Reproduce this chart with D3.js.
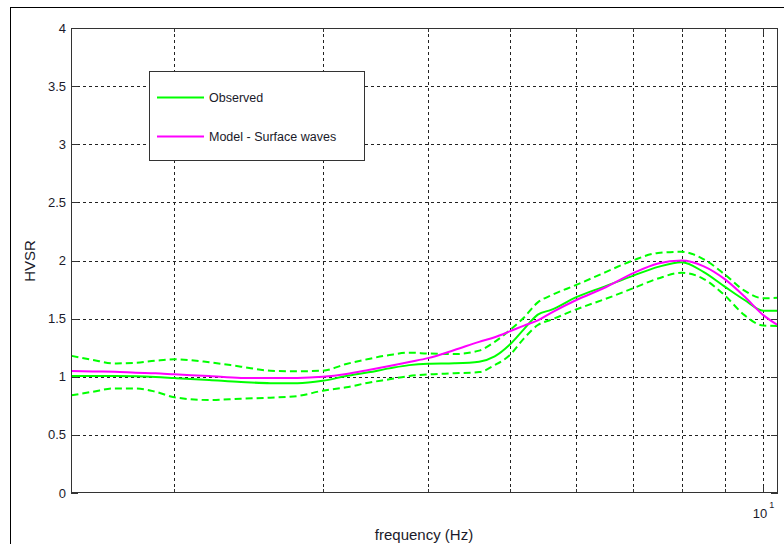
<!DOCTYPE html>
<html><head><meta charset="utf-8">
<script src="https://cdn.jsdelivr.net/npm/d3@7"></script>
<style>body{margin:0;background:#fff;}svg{display:block;font-family:"Liberation Sans",Arial,sans-serif;}</style>
</head><body><svg id="c" width="784" height="544"></svg>
<script>
const freq     = [1.51,1.6,1.7,1.8,1.9,2.0,2.2,2.4,2.6,2.8,3.0,3.2,3.4,3.6,3.8,4.0,4.3,4.6,4.8,5.0,5.2,5.4,5.6,6.0,6.5,7.0,7.5,8.0,8.5,9.0,9.5,10.0,10.4];
const obsMean  = [1.006,1.006,1.006,1.004,0.998,0.989,0.972,0.955,0.945,0.944,0.965,1.006,1.038,1.072,1.10,1.112,1.116,1.13,1.175,1.275,1.41,1.535,1.575,1.685,1.78,1.868,1.945,1.985,1.90,1.775,1.66,1.568,1.568];
const obsUpper = [1.18,1.145,1.115,1.12,1.138,1.15,1.125,1.087,1.052,1.047,1.052,1.11,1.153,1.187,1.207,1.20,1.195,1.225,1.30,1.40,1.51,1.64,1.70,1.79,1.90,2.0,2.065,2.075,2.01,1.88,1.74,1.675,1.68];
const obsLower = [0.84,0.871,0.90,0.90,0.871,0.823,0.80,0.811,0.82,0.834,0.88,0.909,0.949,0.978,1.006,1.02,1.03,1.04,1.10,1.185,1.33,1.445,1.49,1.58,1.67,1.76,1.845,1.895,1.84,1.70,1.53,1.44,1.437];
const model    = [1.049,1.045,1.043,1.035,1.03,1.021,1.006,0.99,0.99,0.99,1.0,1.024,1.058,1.092,1.127,1.16,1.23,1.30,1.34,1.39,1.44,1.485,1.55,1.66,1.77,1.89,1.975,2.0,1.95,1.84,1.69,1.53,1.445];
const yTicks   = [0,0.5,1,1.5,2,2.5,3,3.5,4];
const xGrid    = [2,3,4,5,6,7,8,9,10];
const legendLabels = ["Observed","Model - Surface waves"];

const svg = d3.select("#c");
const L=71,R=778,T=28,B=493;
const x = d3.scaleLog().domain([1.508,10.41]).range([L,R]);
const y = d3.scaleLinear().domain([0,4]).range([B,T]);

// outer figure frame
svg.append("rect").attr("x",10.5).attr("y",7.5).attr("width",800).attr("height",600)
  .attr("fill","none").attr("stroke","#000").attr("stroke-width",1);
svg.append("rect").attr("x",L).attr("y",T).attr("width",R-L).attr("height",B-T).attr("fill","#fff");

// grid
const g = svg.append("g");
g.selectAll(".gy").data(yTicks.filter(d=>d>0&&d<4)).enter().append("line")
  .attr("x1",L).attr("x2",R).attr("y1",d=>Math.round(y(d))+0.5).attr("y2",d=>Math.round(y(d))+0.5)
  .attr("stroke","#222").attr("stroke-dasharray","3,3").attr("stroke-width",1);
g.selectAll(".gx").data(xGrid).enter().append("line")
  .attr("y1",T).attr("y2",B).attr("x1",d=>Math.round(x(d))+0.5).attr("x2",d=>Math.round(x(d))+0.5)
  .attr("stroke","#222").attr("stroke-dasharray","3,3").attr("stroke-width",1);

// ticks (inside)
yTicks.forEach(d=>{
  const yy=Math.round(y(d))+0.5;
  svg.append("line").attr("x1",L).attr("x2",L+7).attr("y1",yy).attr("y2",yy).attr("stroke","#333");
  svg.append("line").attr("x1",R-7).attr("x2",R).attr("y1",yy).attr("y2",yy).attr("stroke","#333");
});
xGrid.forEach(d=>{
  const xx=Math.round(x(d))+0.5; const len = d===10?7:4;
  svg.append("line").attr("x1",xx).attr("x2",xx).attr("y1",B).attr("y2",B-len).attr("stroke","#333");
  svg.append("line").attr("x1",xx).attr("x2",xx).attr("y1",T).attr("y2",T+len).attr("stroke","#333");
});

// curves
const line = arr => d3.line().x((d,i)=>x(freq[i])).y(d=>y(d)).curve(d3.curveMonotoneX)(arr);
svg.append("path").attr("d",line(obsUpper)).attr("fill","none").attr("stroke","#00ff00").attr("stroke-width",2).attr("stroke-dasharray","7,4");
svg.append("path").attr("d",line(obsLower)).attr("fill","none").attr("stroke","#00ff00").attr("stroke-width",2).attr("stroke-dasharray","7,4");
svg.append("path").attr("d",line(obsMean)).attr("fill","none").attr("stroke","#00ff00").attr("stroke-width",2);
svg.append("path").attr("d",line(model)).attr("fill","none").attr("stroke","#ff00ff").attr("stroke-width",2);

// plot box
svg.append("rect").attr("x",L+0.5).attr("y",T+0.5).attr("width",R-L-1).attr("height",B-T-1)
  .attr("fill","none").attr("stroke","#333").attr("stroke-width",1);

// y tick labels
svg.selectAll(".yl").data(yTicks).enter().append("text")
  .attr("x",66).attr("y",d=>y(d)+4.5).attr("text-anchor","end")
  .attr("font-size",13).attr("fill","#1a1a2a").text(d=>d);

// x tick label 10^1
svg.append("text").attr("x",x(10)+4).attr("y",518).attr("text-anchor","end").attr("font-size",13).attr("fill","#1a1a2a").text("10");
svg.append("text").attr("x",x(10)+6).attr("y",508).attr("font-size",9).attr("fill","#1a1a2a").text("1");

// axis labels
svg.append("text").attr("x",424).attr("y",540).attr("text-anchor","middle").attr("font-size",15).attr("fill","#1a1a2a").text("frequency (Hz)");
svg.append("text").attr("transform","translate(35,261) rotate(-90)").attr("text-anchor","middle").attr("font-size",15).attr("fill","#1a1a2a").text("HVSR");

// legend
svg.append("rect").attr("x",149.5).attr("y",71.5).attr("width",215).attr("height",89)
  .attr("fill","#fff").attr("stroke","#333").attr("stroke-width",1);
const legColors=["#00ff00","#ff00ff"], legY=[97.5,136.5];
legendLabels.forEach((t,i)=>{
  svg.append("line").attr("x1",157).attr("x2",204).attr("y1",legY[i]).attr("y2",legY[i]).attr("stroke",legColors[i]).attr("stroke-width",2);
  svg.append("text").attr("x",209).attr("y",legY[i]+4.5).attr("font-size",12.5).attr("fill","#1a1a2a").text(t);
});
</script></body></html>
